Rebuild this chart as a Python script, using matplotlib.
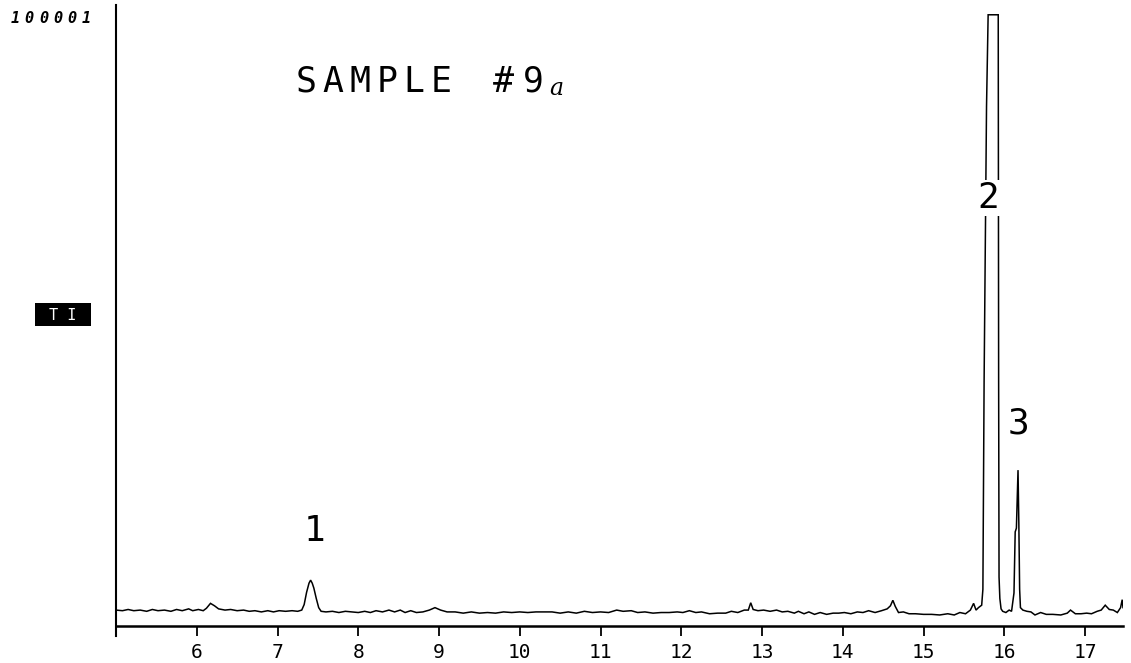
import matplotlib
matplotlib.use("Agg")
import matplotlib.pyplot as plt
from matplotlib.patches import Rectangle

# ---- data (retention time in min, relative intensity %) ----
time_min = [
    5.00, 5.08, 5.15, 5.22, 5.30, 5.38, 5.45, 5.52, 5.60, 5.68, 5.75, 5.82, 5.90, 5.95,
    6.02, 6.08, 6.12, 6.17, 6.22, 6.27, 6.35, 6.42, 6.50, 6.58, 6.65, 6.72, 6.80, 6.88,
    6.95, 7.02, 7.10, 7.18, 7.25, 7.30,
    7.33, 7.36, 7.39, 7.41, 7.43, 7.45, 7.48, 7.51, 7.54,
    7.60, 7.68, 7.76, 7.84, 7.92, 8.00, 8.08, 8.15, 8.22, 8.30, 8.38, 8.45, 8.52, 8.58,
    8.65, 8.72, 8.80, 8.88, 8.95, 9.02, 9.10, 9.20, 9.30, 9.40, 9.50, 9.60, 9.70, 9.80,
    9.90, 10.00, 10.10, 10.20, 10.30, 10.40, 10.50, 10.60, 10.70, 10.80, 10.90, 11.00,
    11.10, 11.20, 11.28, 11.38, 11.46, 11.55, 11.65, 11.75, 11.85, 11.95, 12.02, 12.10,
    12.18, 12.25, 12.35, 12.45, 12.55, 12.62, 12.70, 12.78, 12.83, 12.86, 12.89, 12.95,
    13.02, 13.10, 13.18, 13.25, 13.32, 13.40, 13.45, 13.52, 13.58, 13.65, 13.72, 13.80,
    13.88, 13.95, 14.02, 14.10, 14.18, 14.25, 14.32, 14.40, 14.48, 14.55, 14.59, 14.62,
    14.65, 14.69, 14.75, 14.82, 14.90, 15.00, 15.10, 15.20, 15.30, 15.38, 15.45, 15.52,
    15.58, 15.62, 15.65, 15.68, 15.72,
    15.735, 15.75, 15.78, 15.80, 15.925, 15.93, 15.935, 15.945, 15.96,
    15.98, 16.02, 16.06, 16.09, 16.12, 16.135, 16.15, 16.17, 16.18, 16.19, 16.20,
    16.23, 16.28, 16.33, 16.38, 16.45, 16.52, 16.60, 16.70, 16.78, 16.82, 16.88, 16.95,
    17.02, 17.08, 17.15, 17.20, 17.25, 17.30, 17.35, 17.40, 17.44, 17.46, 17.47,
]
intensity = [
    2.6, 2.5, 2.7, 2.5, 2.6, 2.4, 2.7, 2.5, 2.6, 2.4, 2.7, 2.5, 2.8, 2.5,
    2.7, 2.5, 2.9, 3.7, 3.3, 2.8, 2.6, 2.7, 2.5, 2.6, 2.4, 2.5, 2.3, 2.5,
    2.3, 2.5, 2.4, 2.5, 2.4, 2.6,
    3.5, 5.5, 7.0, 7.5, 7.0, 6.2, 4.5, 3.0, 2.4,
    2.3, 2.4, 2.2, 2.4, 2.3, 2.2, 2.4, 2.2, 2.5, 2.3, 2.6, 2.3, 2.6, 2.2,
    2.5, 2.2, 2.3, 2.6, 3.0, 2.6, 2.3, 2.3, 2.1, 2.3, 2.1, 2.2, 2.1, 2.3,
    2.2, 2.3, 2.2, 2.3, 2.3, 2.3, 2.1, 2.3, 2.1, 2.4, 2.2, 2.3,
    2.2, 2.6, 2.4, 2.5, 2.2, 2.3, 2.1, 2.2, 2.2, 2.3, 2.2, 2.5,
    2.2, 2.3, 2.0, 2.1, 2.1, 2.4, 2.2, 2.6, 2.6, 3.8, 2.7, 2.5,
    2.6, 2.4, 2.6, 2.3, 2.4, 2.1, 2.4, 2.0, 2.3, 1.9, 2.2, 1.9,
    2.1, 2.1, 2.2, 2.0, 2.3, 2.2, 2.5, 2.2, 2.5, 2.8, 3.3, 4.2,
    3.2, 2.2, 2.3, 2.0, 2.0, 1.9, 1.9, 1.8, 2.0, 1.8, 2.2, 2.0,
    2.6, 3.7, 2.6, 3.0, 3.4,
    6.0, 40.0, 85.0, 100.0, 100.0, 40.0, 8.0, 4.5, 2.8,
    2.4, 2.2, 2.6, 2.4, 5.4, 15.4, 16.0, 25.5, 16.9, 6.0, 3.0,
    2.6, 2.4, 2.3, 1.8, 2.2, 1.9, 1.9, 1.8, 2.1, 2.6, 2.0, 2.0,
    2.1, 2.0, 2.4, 2.6, 3.4, 2.7, 2.6, 2.2, 3.0, 4.3, 3.0,
]
tick_values = [6, 7, 8, 9, 10, 11, 12, 13, 14, 15, 16, 17]
tick_labels = ["6", "7", "8", "9", "10", "11", "12", "13", "14", "15", "16", "17"]
peak_labels = ["1", "2", "3"]
title_chars = ["S", "A", "M", "P", "L", "E", "#", "9"]
scale_label = "100001"

W, H = 1131, 663
fig = plt.figure(figsize=(W / 100, H / 100), dpi=100)
fig.patch.set_facecolor("white")

def fx(x):
    return x / W

def fy(y):
    return 1 - y / H

# axes: left spine x=116, right end x=1123; top y=5, bottom y=636 ; value 0 at y=626, 100 at y=15
ax = fig.add_axes([fx(116), fy(636), (1123 - 116) / W, (636 - 5) / H])
ax.set_xlim(5.0, 17.47)
ax.set_ylim(-1.64, 101.6)
ax.plot(time_min, intensity, color="black", lw=1.1, solid_joinstyle="miter")

for s in ["top", "right"]:
    ax.spines[s].set_visible(False)
ax.spines["bottom"].set_position(("data", 0))
ax.spines["bottom"].set_linewidth(1.8)
ax.spines["left"].set_linewidth(1.5)
ax.set_yticks([])
ax.set_xticks(tick_values)
ax.set_xticklabels(tick_labels, family="DejaVu Sans Mono", fontsize=14)
ax.tick_params(axis="x", direction="out", length=7, width=1.3, pad=5, colors="black")
ax.set_facecolor("none")

mono = "DejaVu Sans Mono"

# title, per-character to match the wide dot-matrix pitch
title_x = [306, 333, 360, 387, 414, 441, 503, 533]
for ch, xc in zip(title_chars, title_x):
    fig.text(fx(xc), fy(92), ch, ha="center", va="baseline", family=mono, fontsize=25)
fig.text(fx(556), fy(95), "a", ha="center", va="baseline", family="DejaVu Serif",
         style="italic", fontsize=17)

# full-scale label
for i, ch in enumerate(scale_label):
    fig.text(fx(15 + i * 14.3), fy(23), ch, ha="center", va="baseline", family=mono,
             fontsize=11, weight="bold", style="italic")

# TI box
fig.patches.append(Rectangle((fx(35), fy(326)), (91 - 35) / W, (326 - 303) / H,
                             transform=fig.transFigure, facecolor="black", edgecolor="none"))
fig.text(fx(63), fy(315), "T I", ha="center", va="center", family=mono, fontsize=11,
         color="white")

# peak labels
peak_pos = [(315, 541), (988, 208), (1019, 433)]
for lab, (xc, yb) in zip(peak_labels, peak_pos):
    fig.text(fx(xc), fy(yb), lab, ha="center", va="baseline", family=mono, fontsize=26,
             bbox=dict(facecolor="white", edgecolor="none", pad=0.5) if lab == "2" else None)

fig.savefig("out.png", dpi=100, facecolor="white")
